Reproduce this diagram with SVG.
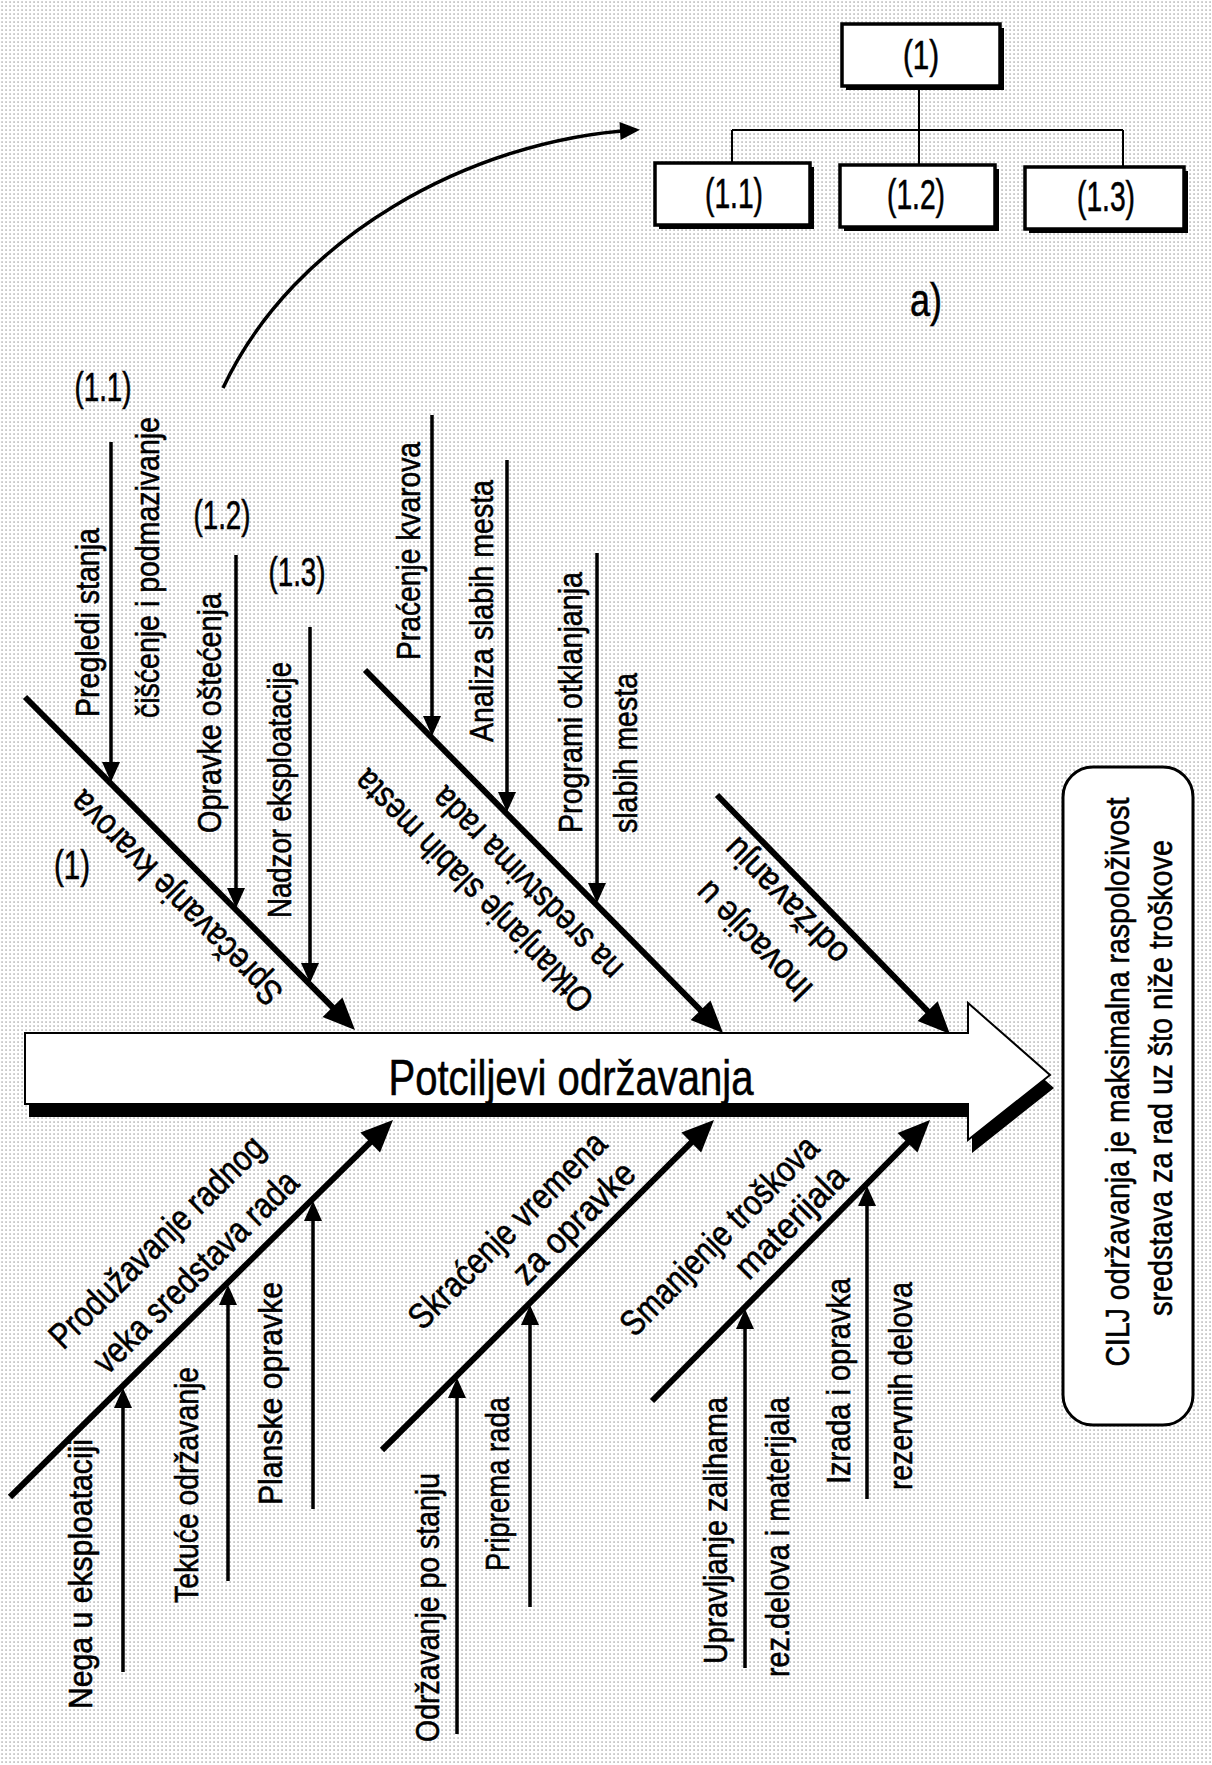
<svg xmlns="http://www.w3.org/2000/svg" width="1212" height="1765" viewBox="0 0 1212 1765">
  <defs>
    <pattern id="dots" width="4" height="4" patternUnits="userSpaceOnUse">
      <rect width="4" height="4" fill="#ffffff"/>
      <rect x="1.5" y="1.5" width="1.1" height="1.1" fill="#6a6a6a"/>
    </pattern>
    <marker id="head-lg" markerUnits="userSpaceOnUse" viewBox="0 -16 34 32" markerWidth="34" markerHeight="32" refX="24" refY="0" orient="auto" overflow="visible">
      <path d="M0,-14 L32,0 L0,14 z" fill="#000"/>
    </marker>
    <marker id="head-sm" markerUnits="userSpaceOnUse" viewBox="0 -10 22 20" markerWidth="22" markerHeight="20" refX="15" refY="0" orient="auto" overflow="visible">
      <path d="M0,-9 L20,0 L0,9 z" fill="#000"/>
    </marker>
    <style>
      .t { font-family: "Liberation Sans Narrow", "Liberation Sans", Arial, sans-serif; font-size: 34px; fill: #000; stroke: #000; stroke-width: 0.6; }
      .lb { font-size: 36px; }
      .num { font-size: 40px; text-anchor: middle; }
      .boxnum { font-size: 42px; }
      .cap { font-size: 46px; }
      .spine { font-size: 50px; }
      .goal { font-size: 33px; }
      .br { fill: none; stroke: #000; stroke-width: 6; marker-end: url(#head-lg); }
      .sub { fill: none; stroke: #000; stroke-width: 3.5; marker-end: url(#head-sm); }
      .thin { fill: none; stroke: #000; stroke-width: 2; }
      .box { fill: #fff; stroke: #000; stroke-width: 3.5; }
      .shadow { fill: #000; }
    </style>
  </defs>

  <!-- halftone background -->
  <rect x="0" y="0" width="1212" height="1765" fill="url(#dots)"/>

  <!-- tree of sub-goals (a) -->
  <g id="tree-links">
    <path class="thin" d="M919,88 V165 M732,130 H1123 M732,130 V163 M1123,130 V167"/>
  </g>
  <g id="tree-1">
    <rect class="shadow" x="846" y="28" width="158" height="62"/>
    <rect class="box" x="842" y="24" width="158" height="62"/>
    <text class="t num" x="921" y="69" textLength="36" lengthAdjust="spacingAndGlyphs">(1)</text>
  </g>
  <g id="tree-1-1">
    <rect class="shadow" x="659" y="167" width="155" height="62"/>
    <rect class="box" x="655" y="163" width="155" height="62"/>
    <text class="t num boxnum" x="734" y="208" textLength="58" lengthAdjust="spacingAndGlyphs">(1.1)</text>
  </g>
  <g id="tree-1-2">
    <rect class="shadow" x="844" y="169" width="155" height="62"/>
    <rect class="box" x="840" y="165" width="155" height="62"/>
    <text class="t num boxnum" x="916" y="209" textLength="58" lengthAdjust="spacingAndGlyphs">(1.2)</text>
  </g>
  <g id="tree-1-3">
    <rect class="shadow" x="1029" y="171" width="159" height="62"/>
    <rect class="box" x="1025" y="167" width="159" height="62"/>
    <text class="t num boxnum" x="1106" y="211" textLength="58" lengthAdjust="spacingAndGlyphs">(1.3)</text>
  </g>
  <text id="caption-a" class="t num cap" x="926" y="316" textLength="32" lengthAdjust="spacingAndGlyphs">a)</text>

  <!-- main spine arrow -->
  <g id="spine">
    <path class="shadow" transform="translate(4,13)" d="M25,1033 H968 V1003 L1050,1075 L968,1140 V1104 H25 z"/>
    <path d="M25,1033 H968 V1003 L1050,1075 L968,1140 V1104 H25 z" fill="#fff" stroke="#000" stroke-width="2"/>
    <text class="t spine" x="571" y="1095" text-anchor="middle" textLength="365" lengthAdjust="spacingAndGlyphs">Potciljevi održavanja</text>
  </g>

  <!-- goal -->
  <g id="goal">
    <rect x="1063" y="767" width="130" height="658" rx="30" ry="30" fill="#fff" stroke="#000" stroke-width="3"/>
    <text class="t goal" text-anchor="middle" transform="translate(1129,1082) rotate(-90)" textLength="569" lengthAdjust="spacingAndGlyphs">CILJ održavanja je maksimalna raspoloživost</text>
    <text class="t goal" text-anchor="middle" transform="translate(1172,1078) rotate(-90)" textLength="476" lengthAdjust="spacingAndGlyphs">sredstava za rad uz što niže troškove</text>
  </g>

  <!-- connectors: branches, sub-causes and the link to the tree -->
  <g id="connectors">
    <path class="br" d="M25,697 L349.4,1024.3"/>
    <path class="br" d="M365,670 L717.4,1027.3"/>
    <path class="br" d="M717,795 L944.4,1028.3"/>
    <path class="br" d="M10,1497 L387.3,1125.6"/>
    <path class="br" d="M382,1450 L708.3,1125.6"/>
    <path class="br" d="M652,1401 L924.4,1125.7"/>

    <path class="sub" d="M111,442 V777"/>
    <path class="sub" d="M236,555 V903"/>
    <path class="sub" d="M310,627 V978"/>
    <path class="sub" d="M432,415 V731"/>
    <path class="sub" d="M507,460 V807"/>
    <path class="sub" d="M597,553 V898"/>

    <path class="sub" d="M123,1672 V1393"/>
    <path class="sub" d="M228,1581 V1290"/>
    <path class="sub" d="M313,1509 V1206"/>
    <path class="sub" d="M457,1734 V1383"/>
    <path class="sub" d="M530,1607 V1310"/>
    <path class="sub" d="M745,1668 V1314"/>
    <path class="sub" d="M867,1499 V1191"/>

    <path class="sub" stroke-width="4.5" d="M223,388 C293,238 470,140 635,130"/>
  </g>

  <!-- branch: Sprečavanje kvarova -->
  <g id="branch-1">
    <text class="t num" x="72" y="879" textLength="36" lengthAdjust="spacingAndGlyphs">(1)</text>
    <text class="t lb" transform="translate(285,991) rotate(-134.74)" textLength="285" lengthAdjust="spacingAndGlyphs">Sprečavanje kvarova</text>
  </g>
  <g id="cause-1-1">
    <text class="t num" x="103" y="401" textLength="57" lengthAdjust="spacingAndGlyphs">(1.1)</text>
    <text class="t" transform="translate(99,717) rotate(-90)" textLength="189" lengthAdjust="spacingAndGlyphs">Pregledi stanja</text>
    <text class="t" transform="translate(159,718) rotate(-90)" textLength="301" lengthAdjust="spacingAndGlyphs">čišćenje i podmazivanje</text>
  </g>
  <g id="cause-1-2">
    <text class="t num" x="222" y="529" textLength="57" lengthAdjust="spacingAndGlyphs">(1.2)</text>
    <text class="t" transform="translate(221,833) rotate(-90)" textLength="240" lengthAdjust="spacingAndGlyphs">Opravke oštećenja</text>
  </g>
  <g id="cause-1-3">
    <text class="t num" x="297" y="586" textLength="57" lengthAdjust="spacingAndGlyphs">(1.3)</text>
    <text class="t" transform="translate(291,918) rotate(-90)" textLength="256" lengthAdjust="spacingAndGlyphs">Nadzor eksploatacije</text>
  </g>

  <!-- branch: Otklanjanje slabih mesta -->
  <g id="branch-2">
    <text class="t lb" transform="translate(596,998) rotate(-134.6)" textLength="324" lengthAdjust="spacingAndGlyphs">Otklanjanje slabih mesta</text>
    <text class="t lb" transform="translate(625,966) rotate(-134.6)" textLength="255" lengthAdjust="spacingAndGlyphs">na sredstvima rada</text>
  </g>
  <g id="cause-2-1">
    <text class="t" transform="translate(420,660) rotate(-90)" textLength="218" lengthAdjust="spacingAndGlyphs">Praćenje kvarova</text>
  </g>
  <g id="cause-2-2">
    <text class="t" transform="translate(493,742) rotate(-90)" textLength="262" lengthAdjust="spacingAndGlyphs">Analiza slabih mesta</text>
  </g>
  <g id="cause-2-3">
    <text class="t" transform="translate(582,833) rotate(-90)" textLength="261" lengthAdjust="spacingAndGlyphs">Programi otklanjanja</text>
    <text class="t" transform="translate(637,833) rotate(-90)" textLength="160" lengthAdjust="spacingAndGlyphs">slabih mesta</text>
  </g>

  <!-- branch: Inovacije u održavanju -->
  <g id="branch-3">
    <text class="t lb" transform="translate(815,987) rotate(-134.3)" textLength="151" lengthAdjust="spacingAndGlyphs">Inovacije u</text>
    <text class="t lb" transform="translate(851,951) rotate(-134.3)" textLength="162" lengthAdjust="spacingAndGlyphs">održavanju</text>
  </g>

  <!-- branch: Produžavanje radnog veka sredstava rada -->
  <g id="branch-4">
    <text class="t lb" text-anchor="end" transform="translate(267,1150) rotate(-44.55)" textLength="286" lengthAdjust="spacingAndGlyphs">Produžavanje radnog</text>
    <text class="t lb" text-anchor="end" transform="translate(301,1185) rotate(-44.55)" textLength="272" lengthAdjust="spacingAndGlyphs">veka sredstava rada</text>
  </g>
  <g id="cause-4-1">
    <text class="t" transform="translate(92,1709) rotate(-90)" textLength="270" lengthAdjust="spacingAndGlyphs">Nega u eksploataciji</text>
  </g>
  <g id="cause-4-2">
    <text class="t" transform="translate(198,1603) rotate(-90)" textLength="236" lengthAdjust="spacingAndGlyphs">Tekuće održavanje</text>
  </g>
  <g id="cause-4-3">
    <text class="t" transform="translate(282,1505) rotate(-90)" textLength="223" lengthAdjust="spacingAndGlyphs">Planske opravke</text>
  </g>

  <!-- branch: Skraćenje vremena za opravke -->
  <g id="branch-5">
    <text class="t lb" text-anchor="end" transform="translate(609,1146) rotate(-44.83)" textLength="263" lengthAdjust="spacingAndGlyphs">Skraćenje vremena</text>
    <text class="t lb" text-anchor="end" transform="translate(638,1176) rotate(-44.83)" textLength="157" lengthAdjust="spacingAndGlyphs">za opravke</text>
  </g>
  <g id="cause-5-1">
    <text class="t" transform="translate(439,1742) rotate(-90)" textLength="269" lengthAdjust="spacingAndGlyphs">Održavanje po stanju</text>
  </g>
  <g id="cause-5-2">
    <text class="t" transform="translate(509,1571) rotate(-90)" textLength="174" lengthAdjust="spacingAndGlyphs">Priprema rada</text>
  </g>

  <!-- branch: Smanjenje troškova materijala -->
  <g id="branch-6">
    <text class="t lb" text-anchor="end" transform="translate(821,1150) rotate(-45.3)" textLength="265" lengthAdjust="spacingAndGlyphs">Smanjenje troškova</text>
    <text class="t lb" text-anchor="end" transform="translate(850,1179) rotate(-45.3)" textLength="144" lengthAdjust="spacingAndGlyphs">materijala</text>
  </g>
  <g id="cause-6-1">
    <text class="t" transform="translate(727,1664) rotate(-90)" textLength="267" lengthAdjust="spacingAndGlyphs">Upravljanje zalihama</text>
    <text class="t" transform="translate(789,1677) rotate(-90)" textLength="280" lengthAdjust="spacingAndGlyphs">rez.delova i materijala</text>
  </g>
  <g id="cause-6-2">
    <text class="t" transform="translate(850,1484) rotate(-90)" textLength="206" lengthAdjust="spacingAndGlyphs">Izrada i opravka</text>
    <text class="t" transform="translate(912,1490) rotate(-90)" textLength="208" lengthAdjust="spacingAndGlyphs">rezervnih delova</text>
  </g>
</svg>
